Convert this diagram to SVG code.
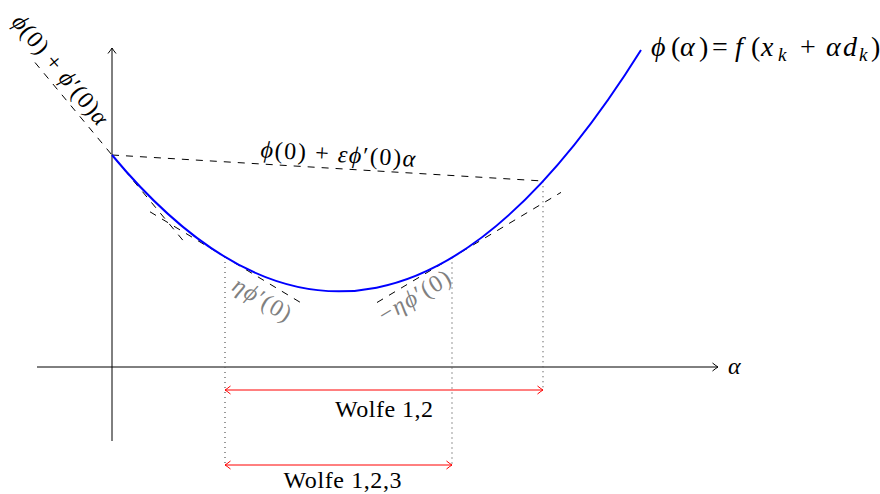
<svg xmlns="http://www.w3.org/2000/svg" width="880" height="494" viewBox="0 0 880 494">
<style>
text{font-family:"Liberation Serif","DejaVu Serif",serif;font-size:24px;fill:#000}
.i{font-style:italic}
.m{font-size:28px}
.s{font-size:19px;font-style:italic}
.ax{stroke:#000;stroke-width:1;fill:none}
.dash{stroke:#000;stroke-width:1;fill:none;stroke-dasharray:7 7}
.dot{stroke:#555;stroke-width:1.2;fill:none;stroke-dasharray:1 4}
.red{stroke:#f00;stroke-width:1;fill:none}
.gray{fill:#808080}
</style>
<defs>
<marker id="ah" markerUnits="userSpaceOnUse" viewBox="-7 -5 9 10" markerWidth="9" markerHeight="10" refX="0" refY="0" orient="auto">
<path d="M-5.5,-4 Q-1.5,-0.8 0,0 Q-1.5,0.8 -5.5,4" fill="none" stroke="#000" stroke-width="1"/>
</marker>
<marker id="rh" markerUnits="userSpaceOnUse" viewBox="-7 -5 9 10" markerWidth="9" markerHeight="10" refX="0" refY="0" orient="auto-start-reverse">
<path d="M-5.5,-4 Q-1.5,-0.8 0,0 Q-1.5,0.8 -5.5,4" fill="none" stroke="#f00" stroke-width="1"/>
</marker>
</defs>
<g id="axes">
<line class="ax" x1="37" y1="367" x2="718" y2="367" marker-end="url(#ah)"/>
<line class="ax" x1="112" y1="441" x2="112" y2="48" marker-end="url(#ah)"/>
<text x="728" y="374" class="i">α</text>
</g>
<g id="connectors">
<line class="dash" x1="35" y1="62.5" x2="185" y2="242.8"/>
<line class="dash" x1="112" y1="155" x2="543" y2="181"/>
<line class="dash" x1="150" y1="211.8" x2="300" y2="302.2"/>
<line class="dash" x1="377" y1="302.5" x2="561" y2="192.4"/>
<line class="dot" x1="225" y1="257" x2="225" y2="465"/>
<line class="dot" x1="452" y1="257.6" x2="452" y2="465"/>
<line class="dot" x1="543" y1="181.2" x2="543" y2="390"/>
<line class="red" x1="225" y1="390" x2="543" y2="390" marker-start="url(#rh)" marker-end="url(#rh)"/>
<line class="red" x1="225" y1="465" x2="452" y2="465" marker-start="url(#rh)" marker-end="url(#rh)"/>
</g>
<g id="curve">
<path d="M112,155 Q376.5,472.8 641,50" fill="none" stroke="#00f" stroke-width="2"/>
<text class="m" y="56"><tspan x="651" class="i">ϕ</tspan><tspan x="671">(</tspan><tspan x="680" class="i">α</tspan><tspan x="699">)</tspan><tspan x="712">=</tspan><tspan x="735" class="i">f</tspan><tspan x="751">(</tspan><tspan x="761" class="i">x</tspan><tspan x="778" class="s" dy="5">k</tspan><tspan x="800" dy="-5">+</tspan><tspan x="826" class="i">α</tspan><tspan x="843" class="i">d</tspan><tspan x="859" class="s" dy="5">k</tspan><tspan x="871" dy="-5">)</tspan></text>
</g>
<g id="tangent-label">
<text transform="translate(54.3,74.8) rotate(50.2)" text-anchor="middle" textLength="136" lengthAdjust="spacing"><tspan class="i">ϕ</tspan>(0) + <tspan class="i">ϕ</tspan>′(0)<tspan class="i">α</tspan></text>
</g>
<g id="armijo-label">
<text transform="translate(337.5,162) rotate(3.45)" text-anchor="middle" textLength="155" lengthAdjust="spacing"><tspan class="i">ϕ</tspan>(0) + <tspan class="i">εϕ</tspan>′(0)<tspan class="i">α</tspan></text>
</g>
<g id="eta-labels">
<text class="gray" transform="translate(258.3,306) rotate(31)" text-anchor="middle" textLength="64" lengthAdjust="spacing"><tspan class="i">ηϕ</tspan>′(0)</text>
<text class="gray" transform="translate(418.6,303) rotate(-31)" text-anchor="middle" textLength="80" lengthAdjust="spacing">−<tspan class="i">ηϕ</tspan>′(0)</text>
</g>
<g id="wolfe-labels">
<text x="384" y="417" text-anchor="middle" textLength="98" lengthAdjust="spacing">Wolfe 1,2</text>
<text x="342.5" y="488" text-anchor="middle" textLength="118" lengthAdjust="spacing">Wolfe 1,2,3</text>
</g>
</svg>
